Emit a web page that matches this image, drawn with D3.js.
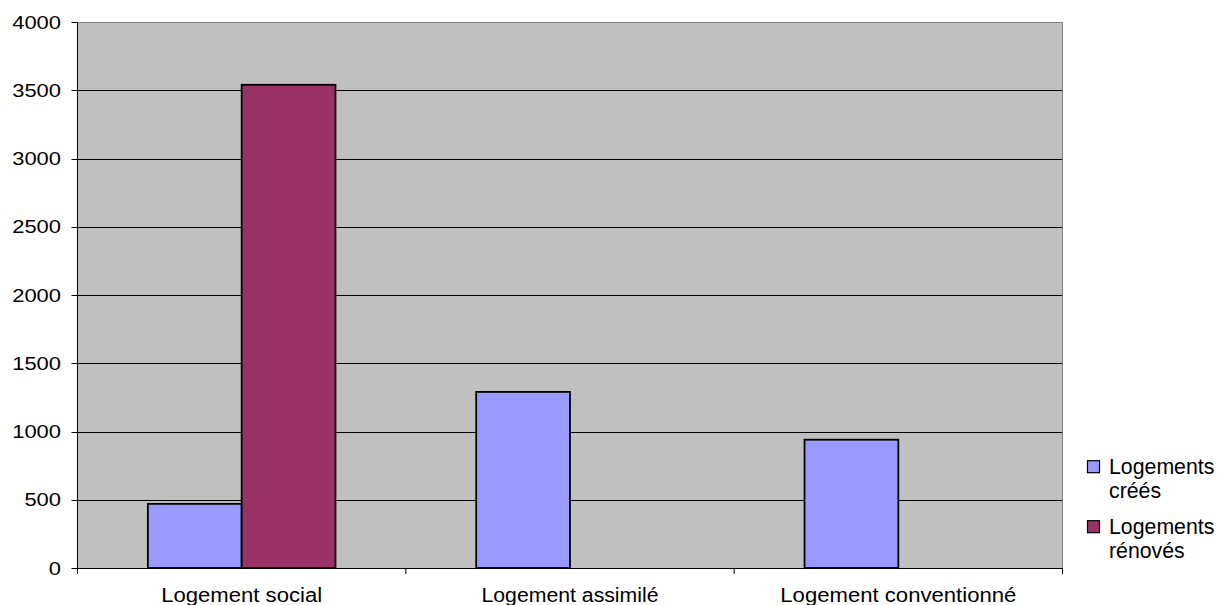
<!DOCTYPE html>
<html>
<head>
<meta charset="utf-8">
<script src="https://cdn.jsdelivr.net/npm/d3@7"></script>
<style>
  html, body { margin: 0; padding: 0; background: #fff; }
  svg { display: block; font-family: "Liberation Sans", Arial, sans-serif; }
</style>
</head>
<body>
<svg id="chart" width="1226" height="605"></svg>
<script>
// Categories, series and tick labels
const categories = ["Logement social", "Logement assimilé", "Logement conventionné"];
const seriesNames = ["Logements créés", "Logements rénovés"];
const legendLines = [["Logements", "créés"], ["Logements", "rénovés"]];
const valuesCrees = [470, 1290, 940];
const valuesRenoves = [3540, 0, 0];
const yTicks = [0, 500, 1000, 1500, 2000, 2500, 3000, 3500, 4000];
const seriesColors = ["#9999FF", "#993366"];

const svg = d3.select("#chart");
const plot = { left: 77.5, right: 1062.5, top: 22, bottom: 568 };

const x0 = d3.scaleBand().domain(categories).range([plot.left, plot.right]).paddingInner(0).paddingOuter(0);
const x1 = d3.scaleBand().domain(seriesNames).range([0, x0.bandwidth()]).paddingInner(0).paddingOuter(0.75);
const y = d3.scaleLinear().domain([0, 4000]).range([plot.bottom, plot.top]);

// Plot area background
svg.append("rect")
  .attr("x", plot.left).attr("y", plot.top)
  .attr("width", plot.right - plot.left).attr("height", plot.bottom - plot.top)
  .attr("fill", "#C0C0C0");

// Horizontal gridlines
svg.append("g")
  .selectAll("line")
  .data(yTicks.filter(t => t > 0 && t < 4000))
  .join("line")
  .attr("x1", plot.left).attr("x2", plot.right)
  .attr("y1", d => Math.round(y(d)) + 0.5).attr("y2", d => Math.round(y(d)) + 0.5)
  .attr("stroke", "#000").attr("stroke-width", 1);

// Frame top and right
svg.append("path")
  .attr("d", `M${plot.left},${plot.top + 0.5}H${plot.right}V${plot.bottom}`)
  .attr("fill", "none").attr("stroke", "#808080").attr("stroke-width", 1);

// Bars
const rows = categories.map((c, i) => ({ cat: c, vals: [valuesCrees[i], valuesRenoves[i]] }));
const groups = svg.append("g").selectAll("g")
  .data(rows).join("g")
  .attr("transform", d => `translate(${x0(d.cat)},0)`);

groups.selectAll("rect")
  .data(d => d.vals.map((v, k) => ({ name: seriesNames[k], value: v, k })).filter(e => e.value > 0))
  .join("rect")
  .attr("x", d => x1(d.name))
  .attr("y", d => y(d.value))
  .attr("width", x1.bandwidth())
  .attr("height", d => y(0) - y(d.value))
  .attr("fill", d => seriesColors[d.k])
  .attr("stroke", "#000").attr("stroke-width", 1.8);

// Y axis
const yAxis = svg.append("g");
yAxis.append("line")
  .attr("x1", plot.left).attr("x2", plot.left)
  .attr("y1", plot.top).attr("y2", plot.bottom + 5)
  .attr("stroke", "#000");
yAxis.selectAll("line.tick")
  .data(yTicks).join("line").attr("class", "tick")
  .attr("x1", plot.left - 6).attr("x2", plot.left)
  .attr("y1", d => Math.round(y(d)) + 0.5).attr("y2", d => Math.round(y(d)) + 0.5)
  .attr("stroke", "#000");
yAxis.selectAll("text")
  .data(yTicks).join("text")
  .attr("x", 61)
  .attr("y", d => y(d) + 6.5)
  .attr("text-anchor", "end")
  .attr("font-size", 19)
  .attr("fill", "#000")
  .attr("textLength", d => String(d).length * 12.2)
  .attr("lengthAdjust", "spacingAndGlyphs")
  .text(d => d3.format("d")(d));

// X axis
const xAxis = svg.append("g");
xAxis.append("line")
  .attr("x1", plot.left).attr("x2", plot.right)
  .attr("y1", plot.bottom + 0.5).attr("y2", plot.bottom + 0.5)
  .attr("stroke", "#000");
const xTickPos = categories.map(c => x0(c)).concat([plot.right]);
xAxis.selectAll("line.tick")
  .data(xTickPos).join("line").attr("class", "tick")
  .attr("x1", d => d).attr("x2", d => d)
  .attr("y1", plot.bottom).attr("y2", plot.bottom + 6)
  .attr("stroke", "#000");
const xLabelWidth = [161, 177, 236];
xAxis.selectAll("text")
  .data(categories).join("text")
  .attr("x", d => x0(d) + x0.bandwidth() / 2)
  .attr("y", 602)
  .attr("text-anchor", "middle")
  .attr("font-size", 20)
  .attr("fill", "#000")
  .attr("textLength", (d, i) => xLabelWidth[i])
  .attr("lengthAdjust", "spacingAndGlyphs")
  .text(d => d);

// Legend
const legend = svg.append("g");
const legendBase = [473.7, 533.7];
seriesNames.forEach((name, k) => {
  const g = legend.append("g");
  g.append("rect")
    .attr("x", 1087.5).attr("y", legendBase[k] - 13)
    .attr("width", 12).attr("height", 12)
    .attr("fill", seriesColors[k]).attr("stroke", "#000").attr("stroke-width", 1.2);
  g.append("text")
    .attr("x", 1109).attr("y", legendBase[k])
    .attr("font-size", 21.3).attr("fill", "#000")
    .selectAll("tspan").data(legendLines[k]).join("tspan")
    .attr("x", 1109).attr("dy", (d, i) => i === 0 ? 0 : 24)
    .text(d => d);
});
</script>
</body>
</html>
